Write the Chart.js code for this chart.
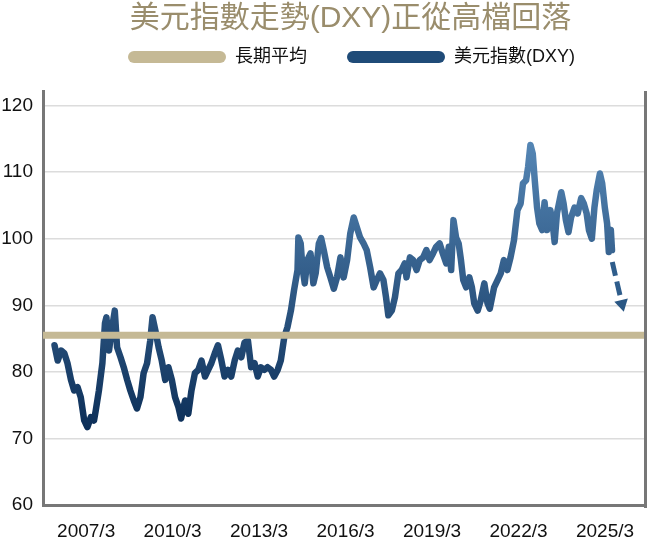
<!DOCTYPE html>
<html><head><meta charset="utf-8">
<script src="https://cdn.jsdelivr.net/npm/chart.js@4.4.1/dist/chart.umd.min.js"></script>
<style>html,body{margin:0;padding:0;background:#fff;overflow:hidden}#wrap{width:652px;height:541px;position:relative}canvas{display:block}</style>
</head><body><div id="wrap"><canvas id="c"></canvas></div>
<script>
const chartTitle = '美元指數走勢(DXY)正從高檔回落';
const seriesNames = ['長期平均', '美元指數(DXY)'];
const tickLabels = ['2007/3', '2010/3', '2013/3', '2016/3', '2019/3', '2022/3', '2025/3'];
const yTickValues = [60, 70, 80, 90, 100, 110, 120];
const longTermAverage = 85.5;

const dxyDates = [
2006.07,2006.18,2006.30,2006.41,2006.52,2006.64,2006.75,2006.87,2006.98,2007.10,
2007.21,2007.33,2007.44,2007.50,2007.61,2007.73,2007.82,2007.87,2007.96,2008.05,
2008.16,2008.24,2008.36,2008.47,2008.59,2008.70,2008.82,2008.93,2009.05,2009.16,
2009.28,2009.39,2009.47,2009.57,2009.68,2009.79,2009.91,2010.02,2010.14,2010.25,
2010.37,2010.46,2010.60,2010.71,2010.82,2010.94,2011.06,2011.17,2011.29,2011.40,
2011.51,2011.63,2011.74,2011.86,2011.97,2012.09,2012.20,2012.32,2012.43,2012.55,
2012.66,2012.78,2012.89,2013.01,2013.12,2013.23,2013.35,2013.46,2013.58,2013.69,
2013.81,2013.92,2014.04,2014.15,2014.27,2014.38,2014.50,2014.53,2014.61,2014.67,
2014.75,2014.84,2014.95,2015.05,2015.13,2015.24,2015.32,2015.41,2015.53,2015.64,
2015.76,2015.87,2015.99,2016.10,2016.22,2016.33,2016.45,2016.56,2016.67,2016.79,
2016.90,2017.02,2017.14,2017.25,2017.36,2017.48,2017.57,2017.65,2017.77,2017.88,
2018.00,2018.11,2018.22,2018.28,2018.40,2018.51,2018.63,2018.74,2018.86,2018.97,
2019.08,2019.20,2019.31,2019.43,2019.54,2019.66,2019.75,2019.83,2019.91,2020.00,
2020.09,2020.17,2020.25,2020.35,2020.46,2020.55,2020.63,2020.75,2020.86,2020.98,
2021.09,2021.17,2021.32,2021.44,2021.55,2021.66,2021.78,2021.89,2022.01,2022.13,
2022.24,2022.32,2022.43,2022.50,2022.58,2022.66,2022.73,2022.81,2022.89,2022.99,
2023.07,2023.16,2023.27,2023.35,2023.42,2023.50,2023.65,2023.73,2023.81,2023.90,
2023.99,2024.11,2024.22,2024.34,2024.43,2024.53,2024.61,2024.71,2024.80,2024.88,
2024.99,2025.07,2025.16,2025.24,2025.30,2025.37,2025.41];

const dxyValues = [
84.0,81.7,83.2,82.8,81.3,78.8,77.2,77.7,76.2,72.7,
71.7,73.2,72.7,74.2,77.2,81.3,87.3,88.2,83.2,86.2,
89.2,83.7,82.2,80.7,78.8,77.2,75.7,74.5,76.2,79.8,
81.3,84.7,88.2,86.2,83.7,81.7,78.8,80.7,78.8,76.2,
74.7,73.0,75.7,73.7,77.2,79.8,80.3,81.7,79.3,80.3,
81.3,82.8,84.0,81.7,79.3,80.3,79.3,81.7,83.2,82.2,
84.4,84.7,80.7,81.3,79.3,80.7,80.3,80.7,80.3,79.3,
80.3,81.7,85.2,86.7,89.2,92.3,95.3,100.2,99.3,95.7,
93.3,96.8,97.8,93.3,94.8,99.3,100.1,98.3,95.7,94.2,
92.5,94.2,97.2,94.2,96.8,100.8,103.2,101.7,100.2,99.3,
98.3,95.7,92.7,93.8,94.8,93.8,91.2,88.5,89.2,91.2,
94.8,95.3,96.3,94.2,97.2,96.8,95.3,96.8,97.2,98.3,
96.8,97.8,98.8,99.3,97.8,96.3,98.8,95.3,102.8,100.2,
99.3,96.8,93.8,92.7,94.2,92.7,90.3,89.2,90.8,93.3,
90.3,89.5,92.7,93.8,94.8,96.8,95.3,97.2,99.8,104.3,
105.3,108.3,108.8,110.8,114.1,112.8,108.8,104.7,102.3,101.3,
105.5,101.3,104.3,102.3,99.5,103.8,107.0,105.3,102.8,101.0,
103.2,104.7,103.8,106.1,105.3,103.8,101.3,100.0,104.7,107.3,
109.8,108.3,104.7,102.3,98.0,101.3,98.3];

const arrowDates = [2025.42, 2025.756];
const arrowValues = [96.5, 90.2];

const xMin = 2005.67, xMax = 2026.52, yMin = 60, yMax = 122.2;

const tickValues = tickLabels.map(s => { const p = s.split('/').map(Number); return p[0] + (p[1] - 1) / 12; });
const toPoints = (xs, ys) => xs.map((x, i) => ({x: x, y: ys[i]}));

function blueGradient(context) {
  const chart = context.chart;
  const y = chart.scales && chart.scales.y;
  if (!chart.chartArea || !y) return '#1f4b78';
  const g = chart.ctx.createLinearGradient(0, y.getPixelForValue(116), 0, y.getPixelForValue(70));
  g.addColorStop(0, '#5789b8');
  g.addColorStop(1, '#0a2c55');
  return g;
}

const rightFrame = {
  id: 'rightFrame',
  afterDraw(chart) {
    const {ctx, chartArea: a} = chart;
    ctx.save();
    ctx.strokeStyle = '#777777';
    ctx.lineWidth = 3;
    ctx.beginPath();
    ctx.moveTo(a.right + 1.5, a.top);
    ctx.lineTo(a.right + 1.5, a.bottom + 3);
    ctx.stroke();
    ctx.restore();
  }
};

const headerShift = {
  id: 'headerShift',
  afterLayout(chart) {
    if (chart.titleBlock) { chart.titleBlock.left += 7; chart.titleBlock.right += 7; }
    if (chart.legend) { chart.legend.left += 8; chart.legend.right += 8; }
  }
};

const latin = "'Liberation Sans', 'Noto Sans CJK TC', sans-serif";

new Chart(document.getElementById('c'), {
  type: 'line',
  data: {
    datasets: [
      {
        label: seriesNames[0],
        data: toPoints([xMin, xMax], [longTermAverage, longTermAverage]),
        borderColor: '#c5b995',
        borderWidth: 7,
        borderCapStyle: 'butt',
        pointRadius: 0,
        order: 0,
        xAxisID: 'x', yAxisID: 'y'
      },
      {
        label: seriesNames[1],
        data: toPoints(dxyDates, dxyValues),
        borderColor: blueGradient,
        borderWidth: 6.5,
        borderJoinStyle: 'round',
        borderCapStyle: 'round',
        tension: 0,
        pointRadius: 0,
        order: 1,
        xAxisID: 'x', yAxisID: 'y'
      },
      {
        label: 'arrow',
        data: toPoints(arrowDates, arrowValues),
        borderColor: '#2f5d8b',
        backgroundColor: '#2a5784',
        borderWidth: 5,
        borderDash: [14, 6],
        borderCapStyle: 'butt',
        pointRadius: [0, 8],
        pointStyle: 'triangle',
        rotation: [0, 167],
        pointBorderWidth: 0,
        order: 1,
        xAxisID: 'x', yAxisID: 'y'
      }
    ]
  },
  options: {
    responsive: true,
    maintainAspectRatio: false,
    animation: false,
    layout: { padding: { left: 0, right: 2.5, top: 0, bottom: 0 } },
    plugins: {
      tooltip: { enabled: false },
      title: {
        display: true,
        text: chartTitle,
        fullSize: false,
        color: '#9a8d6c',
        font: { family: latin, size: 30, weight: 'normal' },
        padding: { top: 1, bottom: 1 }
      },
      legend: {
        display: true,
        position: 'top',
        fullSize: false,
        labels: {
          color: '#111111',
          font: { family: latin, size: 18 },
          boxWidth: 98,
          boxHeight: 12,
          padding: 10,
          useBorderRadius: true,
          borderRadius: 6,
          generateLabels: () => [
            { text: seriesNames[0] + '      ', fillStyle: '#c5b995', strokeStyle: '#c5b995', lineWidth: 0, borderRadius: 6, datasetIndex: 0, hidden: false, fontColor: '#111111' },
            { text: seriesNames[1], fillStyle: '#1f4b78', strokeStyle: '#1f4b78', lineWidth: 0, borderRadius: 6, datasetIndex: 1, hidden: false, fontColor: '#111111' }
          ]
        }
      }
    },
    scales: {
      x: {
        type: 'linear',
        position: 'bottom',
        min: xMin, max: xMax,
        afterBuildTicks: s => { s.ticks = tickValues.map(v => ({value: v})); },
        afterFit: s => { s.height = 36; s.paddingLeft = 0; s.paddingRight = 0; },
        ticks: {
          color: '#111111',
          font: { family: latin, size: 19 },
          padding: 15,
          maxRotation: 0,
          autoSkip: false,
          callback: (v) => { const i = tickValues.findIndex(t => Math.abs(t - v) < 1e-6); return i >= 0 ? tickLabels[i] : ''; }
        },
        grid: { display: false, drawTicks: false },
        border: { display: true, color: '#777777', width: 3 }
      },
      spacer: {
        type: 'linear',
        position: 'top',
        min: 0, max: 1,
        ticks: { display: false },
        grid: { display: false, drawTicks: false },
        border: { display: false },
        afterFit: s => { s.height = 15; s.paddingLeft = 0; s.paddingRight = 0; }
      },
      y: {
        type: 'linear',
        min: yMin, max: yMax,
        afterBuildTicks: s => { s.ticks = yTickValues.map(v => ({value: v})); },
        afterFit: s => { s.width = 43; },
        ticks: {
          color: '#111111',
          font: { family: latin, size: 19 },
          padding: 10
        },
        grid: { color: '#dcdcdc', lineWidth: 1.5, drawTicks: false },
        border: { display: true, color: '#777777', width: 3 }
      }
    }
  },
  plugins: [rightFrame, headerShift]
});
</script>
</body></html>
